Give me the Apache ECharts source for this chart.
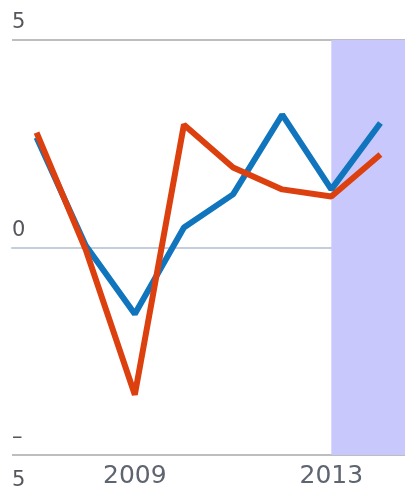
<!DOCTYPE html>
<html>
<head>
<meta charset="utf-8">
<script src="https://cdn.jsdelivr.net/npm/echarts@6/dist/echarts.min.js"></script>
<style>html,body{margin:0;padding:0;background:#fff}#c{width:405px;height:496px}</style>
</head>
<body>
<div id="c"></div>
<script>
const years = ['2007','2008','2009','2010','2011','2012','2013','2014'];
const blueSeries = [2.65, 0.05, -1.6, 0.48, 1.28, 3.2, 1.4, 3.0];
const redSeries = [2.77, -0.05, -3.55, 2.96, 1.93, 1.4, 1.23, 2.24];
const shadedFrom = '2013';
const shownYears = ['2009', '2013'];
const yTicks = [-5, 0, 5];

const chart = echarts.init(document.getElementById('c'));
chart.setOption({
  animation: false,
  grid: {left: 12, right: -1, top: 40, bottom: 41},
  xAxis: {
    type: 'category',
    data: years,
    boundaryGap: true,
    axisLine: {lineStyle: {color: '#c3cddc', width: 2}},
    axisTick: {
      alignWithLabel: true, length: 10,
      interval: (i, v) => shownYears.includes(v),
      lineStyle: {color: '#c3cddc', width: 1.5}
    },
    axisLabel: {
      interval: (i, v) => shownYears.includes(v),
      color: '#5e6470', fontSize: 25, fontFamily: 'DejaVu Sans', margin: 9
    },
    splitLine: {show: false}
  },
  yAxis: {
    type: 'value', min: yTicks[0], max: yTicks[yTicks.length - 1], interval: 5,
    axisLine: {show: false}, axisTick: {show: false},
    splitLine: {lineStyle: {color: '#a9a9a9', width: 1.5}},
    axisLabel: {
      inside: true, margin: 0, verticalAlign: 'middle',
      formatter: v => v < 0 ? '{a|–}\n{c|' + Math.abs(v) + '}' : '{a|' + v + '}\n{b|}',
      rich: {
        a: {color: '#55555c', fontSize: 21, fontFamily: 'DejaVu Sans', lineHeight: 34},
        b: {fontSize: 21, lineHeight: 34},
        c: {color: '#55555c', fontSize: 21, fontFamily: 'DejaVu Sans', lineHeight: 34, padding: [18, 0, 0, 0]}
      }
    }
  },
  series: [
    {
      type: 'line', data: blueSeries, symbol: 'none',
      lineStyle: {color: '#1175bd', width: 6}, z: 2,
      markArea: {
        silent: true,
        itemStyle: {color: '#c8c8fc'},
        data: [[{xAxis: shadedFrom}, {x: 405}]]
      }
    },
    {
      type: 'line', data: redSeries, symbol: 'none',
      lineStyle: {color: '#dd400f', width: 6}, z: 3
    }
  ]
});
</script>
</body>
</html>
